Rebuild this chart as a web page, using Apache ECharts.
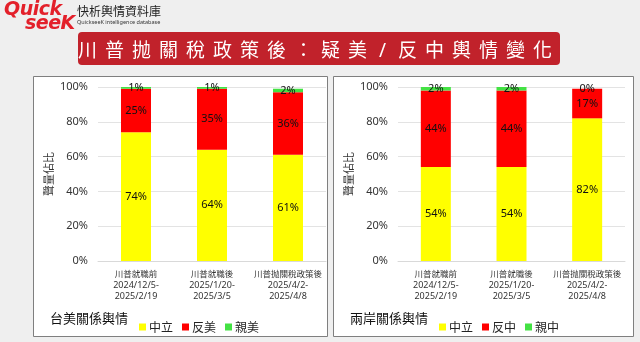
<!DOCTYPE html>
<html><head><meta charset="utf-8">
<script src="https://cdn.jsdelivr.net/npm/echarts@6/dist/echarts.min.js"></script>
<style>
html,body{margin:0;padding:0;width:640px;height:342px;background:#efefef;overflow:hidden;font-family:"Noto Sans CJK TC","Noto Sans",sans-serif;}
#chart{position:absolute;left:0;top:0;width:640px;height:342px;}
.logo1{position:absolute;left:4px;top:-3px;font:italic 900 19px "DejaVu Sans",sans-serif;color:#e3202a;letter-spacing:-0.5px;}
.logo2{position:absolute;left:25px;top:11px;font:italic 900 19px "DejaVu Sans",sans-serif;color:#e3202a;letter-spacing:-0.5px;}
.brand{position:absolute;left:77px;top:2px;font-size:12px;color:#222;font-family:"Noto Sans CJK TC",sans-serif;}
.brand2{position:absolute;left:77px;top:18px;font-size:5.5px;color:#333;font-family:"Noto Sans",sans-serif;}
.banner{position:absolute;left:78px;top:32px;width:482px;height:33px;background:#c1222b;border-radius:4px;color:#fff;font-size:19px;line-height:33px;text-align:center;white-space:nowrap;font-family:"Noto Sans CJK TC",sans-serif;}
.banner span{letter-spacing:8px;}
.banner .sl{letter-spacing:8px;font-family:"Noto Sans",sans-serif;padding:0 4px;}
</style></head>
<body>
<div id="chart"></div>
<div class="logo1">Quick</div>
<div class="logo2">seeK</div>
<div class="brand">快析輿情資料庫</div>
<div class="brand2">QuickseeK intelligence database</div>
<div class="banner"><span>川普抛關稅政策後：疑美<span class="sl">/</span>反中輿情變化</span></div>
<script>
const categories = ['川普就職前\n2024/12/5-\n2025/2/19', '川普就職後\n2025/1/20-\n2025/3/5', '川普抛關稅政策後\n2025/4/2-\n2025/4/8'];
const yTicks = [0, 20, 40, 60, 80, 100];
const leftTitle = '台美關係輿情';
const rightTitle = '兩岸關係輿情';
const leftNames = ['中立', '反美', '親美'];
const rightNames = ['中立', '反中', '親中'];
const leftNeutral = [74, 64, 61];
const leftAnti = [25, 35, 36];
const leftPro = [1, 1, 2];
const rightNeutral = [54, 54, 82];
const rightAnti = [44, 44, 17];
const rightPro = [2, 2, 0];
const colors = ['#ffff00', '#ff0000', '#44e244'];

const chart = echarts.init(document.getElementById('chart'));
function xAxis(i) {
  return {
    type: 'category', gridIndex: i, data: categories,
    axisLine: { lineStyle: { color: '#d9d9d9' } }, axisTick: { show: false },
    axisLabel: {
      interval: 0, margin: 7, lineHeight: 11.5,
      formatter: function (v) {
        const p = v.split('\n');
        return '{a|' + p[0] + '}\n{b|' + p[1] + '}\n{b|' + p[2] + '}';
      },
      rich: {
        a: { fontSize: 8.5, color: '#333', lineHeight: 11.5, fontFamily: 'Noto Sans CJK TC' },
        b: { fontSize: 9, color: '#333', lineHeight: 11.5, fontFamily: 'Noto Sans' }
      }
    }
  };
}
function yAxis(i) {
  return {
    type: 'value', gridIndex: i, min: 0, max: 100, interval: 20,
    name: '聲量佔比', nameLocation: 'middle', nameGap: 44, nameRotate: 90,
    nameTextStyle: { fontSize: 11, color: '#333', fontFamily: 'Noto Sans CJK TC' },
    axisLabel: { formatter: '{value}%', fontSize: 11, color: '#333', margin: 10, fontFamily: 'Noto Sans' },
    splitLine: { lineStyle: { color: '#e3e3e3' } },
    axisLine: { show: false }, axisTick: { show: false }
  };
}
function series(names, vals, i) {
  return vals.map(function (d, k) {
    return {
      type: 'bar', name: names[k], stack: 's' + i, xAxisIndex: i, yAxisIndex: i,
      data: d, barWidth: 30, itemStyle: { color: colors[k] },
      label: { show: true, position: 'inside', formatter: '{v|{c}%}',
        rich: { v: { fontSize: 11, color: '#111', textBorderWidth: 0, fontFamily: 'Noto Sans' } },
        textBorderWidth: 0, textBorderColor: 'transparent' },
      emphasis: { disabled: true }
    };
  });
}
function legend(names, left) {
  return {
    data: names, left: left, top: 316, itemWidth: 7, itemHeight: 7, itemGap: 9, icon: 'rect',
    textStyle: { fontSize: 12, color: '#222', padding: [0, 0, 0, -2], fontFamily: 'Noto Sans CJK TC' },
    selectedMode: false
  };
}
chart.setOption({
  animation: false,
  graphic: [
    { type: 'rect', shape: { x: 33.5, y: 76.5, width: 294, height: 260 }, style: { fill: '#fff', stroke: '#7f7f7f', lineWidth: 1 }, z: -10 },
    { type: 'rect', shape: { x: 333.5, y: 76.5, width: 300, height: 260 }, style: { fill: '#fff', stroke: '#7f7f7f', lineWidth: 1 }, z: -10 },
    { type: 'text', left: 50, top: 312, style: { text: leftTitle, fontSize: 13, fill: '#111', fontFamily: 'Noto Sans CJK TC' } },
    { type: 'text', left: 350, top: 312, style: { text: rightTitle, fontSize: 13, fill: '#111', fontFamily: 'Noto Sans CJK TC' } }
  ],
  legend: [legend(leftNames, 134), legend(rightNames, 434)],
  grid: [
    { left: 98, right: 314, top: 87, bottom: 81 },
    { left: 398, right: 15, top: 87, bottom: 81 }
  ],
  xAxis: [xAxis(0), xAxis(1)],
  yAxis: [yAxis(0), yAxis(1)],
  series: series(leftNames, [leftNeutral, leftAnti, leftPro], 0).concat(series(rightNames, [rightNeutral, rightAnti, rightPro], 1))
});
</script>
</body></html>
